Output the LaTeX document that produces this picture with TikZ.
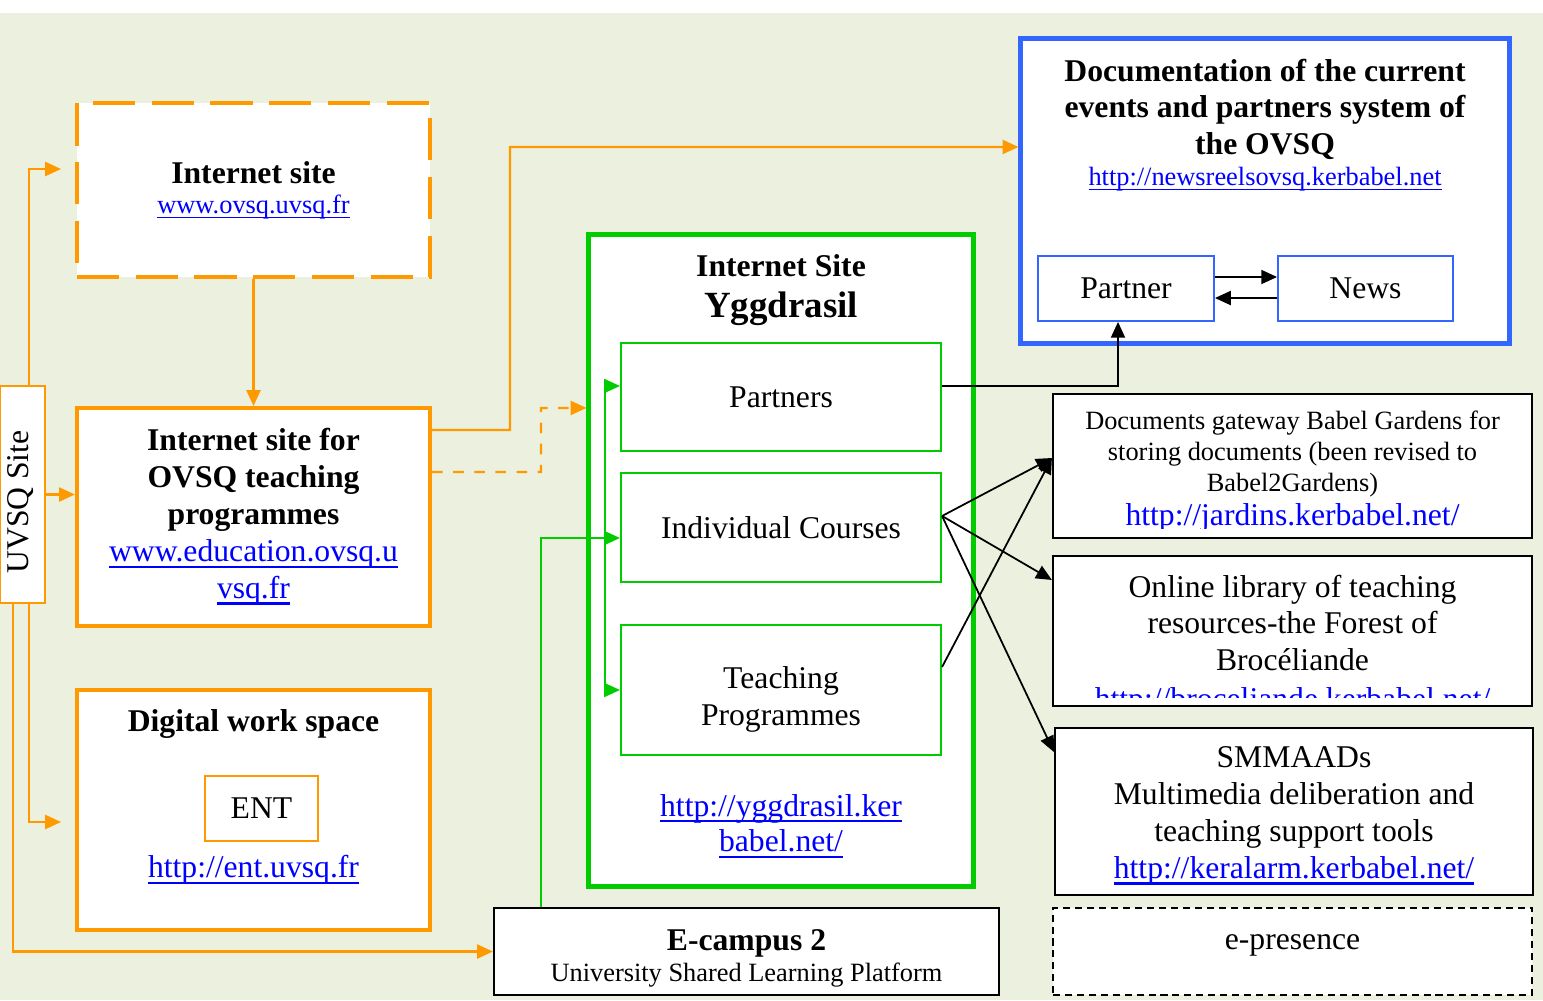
\documentclass[tikz,border=0pt]{standalone}
\usepackage{fontspec}
\usepackage{graphicx}
\setmainfont{Liberation Serif}
\usetikzlibrary{arrows.meta}
\definecolor{uvorange}{RGB}{255,153,0}
\definecolor{yggreen}{RGB}{0,204,0}
\definecolor{newsblue}{RGB}{51,102,255}
\definecolor{linkblue}{RGB}{0,0,255}
\definecolor{pagegreen}{RGB}{235,241,222}
\newsavebox{\linkbox}
\newcommand{\weblink}[1]{\sbox{\linkbox}{\textcolor{linkblue}{#1}}\textcolor{linkblue}{\rlap{\rule[-0.19em]{\wd\linkbox}{0.07em}}\usebox{\linkbox}}}
\tikzset{
  bodytext/.style={font=\fontsize{9}{10.5}\selectfont},
  smalltext/.style={font=\fontsize{7.5}{8.8}\selectfont},
  headtext/.style={font=\fontsize{9}{10.5}\selectfont\bfseries},
  orangebox/.style={draw=uvorange, line width=1.15pt, fill=white, inner sep=0pt},
  thinorange/.style={draw=uvorange, line width=0.5pt, fill=white, inner sep=0pt},
  greenbox/.style={draw=yggreen, line width=1.4pt, fill=white, inner sep=0pt},
  subgreen/.style={draw=yggreen, line width=0.55pt, fill=white, inner sep=0pt, bodytext},
  bluebox/.style={draw=newsblue, line width=1.4pt, fill=white, inner sep=0pt},
  subblue/.style={draw=newsblue, line width=0.5pt, fill=white, inner sep=0pt, bodytext},
  blackbox/.style={draw=black, line width=0.55pt, fill=white, inner sep=0pt},
  orangeline/.style={draw=uvorange, line width=0.6pt},
  gline/.style={draw=yggreen, line width=0.45pt},
  bline/.style={draw=black, line width=0.5pt}
}

\begin{document}
\begin{tikzpicture}[x=0.01cm, y=-0.01cm, >={Triangle[length=4.5pt,width=4pt]}]
    \useasboundingbox (0,0) rectangle (1543,1000);
    \fill[white] (0,0) rectangle (1543,13);
    \fill[pagegreen] (0,13) rectangle (1543,1000);

    % UVSQ column - left
    \node[thinorange, minimum width=0.45cm, minimum height=2.17cm] (uvsq) at (22.5,494.5) {};
    \node[bodytext, rotate=90] (uvsqtxt) at (21,502) {UVSQ Site};
    \node[orangebox, dash pattern=on 12pt off 4.7pt, minimum width=3.53cm, minimum height=1.74cm] (isite) at (253.5,190) {};
    \node[headtext] (isitettl) at (253.5,173) {Internet site};
    \node[smalltext] (isiteurl) at (253.5,207) {\weblink{www.ovsq.uvsq.fr}};
    \node[orangebox, minimum width=3.53cm, minimum height=2.18cm, bodytext, align=center] (edu) at (253.5,517)
        {\textbf{Internet site for}\\\textbf{OVSQ teaching}\\\textbf{programmes}\\\weblink{www.education.ovsq.u}\\\weblink{vsq.fr}};
    \node[orangebox, minimum width=3.53cm, minimum height=2.40cm] (dws) at (253.5,810) {};
    \node[headtext] (dwsttl) at (253.5,724) {Digital work space};
    \node[thinorange, minimum width=1.13cm, minimum height=0.65cm, bodytext] (ent) at (261.5,808.5) {ENT};
    \node[bodytext] (dwsurl) at (253.5,870) {\weblink{http://ent.uvsq.fr}};

    % Yggdrasil - centre
    \node[greenbox, minimum width=3.84cm, minimum height=6.51cm] (ygg) at (781,560.5) {};
    \node[headtext] (yggttl) at (781,266) {Internet Site};
    \node[font=\fontsize{10.5}{12}\selectfont\bfseries] (yggname) at (781,309) {Yggdrasil};
    \node[subgreen, minimum width=3.20cm, minimum height=1.08cm] (partners) at (781,397) {Partners};
    \node[subgreen, minimum width=3.20cm, minimum height=1.09cm] (courses) at (781,527.5) {Individual Courses};
    \node[subgreen, minimum width=3.20cm, minimum height=1.30cm] (teaching) at (781,690) {};
    \node[bodytext, align=center] (teachtxt) at (781,699) {Teaching\\Programmes};
    \node[font=\fontsize{9}{10.2}\selectfont, align=center] (yggurl) at (781,826) {\weblink{http://yggdrasil.ker}\\\weblink{babel.net/}};
    \node[blackbox, minimum width=5.05cm, minimum height=0.87cm] (ecampus) at (746.5,951.5) {};
    \node[headtext] (eckttl) at (746.5,943) {E-campus 2};
    \node[smalltext] (ecksub) at (746.5,975) {University Shared Learning Platform};

    % Documentation - top right
    \node[bluebox, minimum width=4.88cm, minimum height=3.04cm] (doc) at (1265,191) {};
    \node[font=\fontsize{9}{10.4}\selectfont\bfseries, align=center] (docttl) at (1265,109)
        {Documentation of the current\\events and partners system of\\the OVSQ};
    \node[smalltext] (docurl) at (1265,179) {\weblink{http://newsreelsovsq.kerbabel.net}};
    \node[subblue, minimum width=1.76cm, minimum height=0.65cm] (partner) at (1126,288.5) {Partner};
    \node[subblue, minimum width=1.75cm, minimum height=0.65cm] (news) at (1365.5,288.5) {News};

    % Resources - right
    \node[blackbox, minimum width=4.79cm, minimum height=1.44cm] (gateway) at (1292.5,466) {};
    \node[smalltext, align=center] (gwtext) at (1292.5,454)
        {Documents gateway Babel Gardens for\\storing documents (been revised to\\Babel2Gardens)};
    \begin{scope}
        \clip (gateway.north west) rectangle ([yshift=0.11cm]gateway.south east);
        \node[bodytext, text=linkblue] (gwurl) at (1292.5,518) {http://jardins.kerbabel.net/};
    \end{scope}
    \node[blackbox, minimum width=4.79cm, minimum height=1.50cm] (library) at (1292.5,631) {};
    \node[font=\fontsize{9}{10.25}\selectfont, align=center] (libtext) at (1292.5,623)
        {Online library of teaching\\resources-the Forest of\\Brocéliande};
    \begin{scope}
        \clip (library.north west) rectangle ([yshift=0.1cm]library.south east);
        \node[bodytext] (liburl) at (1292.5,702) {\weblink{http://broceliande.kerbabel.net/}};
    \end{scope}
    \node[blackbox, minimum width=4.78cm, minimum height=1.67cm] (smmaad) at (1294,811.5) {};
    \node[bodytext, align=center] (smmtxt) at (1294,816)
        {SMMAADs\\Multimedia deliberation and\\teaching support tools\\\weblink{http://keralarm.kerbabel.net/}};
    \node[blackbox, dash pattern=on 2pt off 1.4pt, minimum width=4.79cm, minimum height=0.87cm] (epres) at (1292.5,951.5) {};
    \node[bodytext] (eprestxt) at (1292.5,945) {e-presence};

    % Orange links
    \coordinate (isitein) at (61,169);
    \coordinate (dwsin) at (61,822);
    \draw[orangeline, ->] ([xshift=0.065cm]uvsq.north) |- (isitein);
    \draw[orangeline, ->] (uvsq.east) -- (uvsq.east -| edu.west);
    \draw[orangeline, ->] ([xshift=0.065cm]uvsq.south) |- (dwsin);
    \draw[orangeline, ->] ([xshift=-0.095cm]uvsq.south) |- (ecampus.west);
    \draw[orangeline, ->] (isite.south) -- (edu.north);
    \draw[orangeline, ->] ([yshift=0.87cm]edu.east) -| (510,147) -- ([yshift=0.44cm]doc.west);
    \draw[orangeline, dashed, ->] ([yshift=0.45cm]edu.east) -| (541,408) -- ([yshift=1.525cm]ygg.west);

    % Green links
    \draw[gline, ->] ([xshift=-0.15cm]teaching.west) |- ([yshift=0.11cm]partners.west);
    \draw[gline, ->] ([xshift=-0.15cm]teaching.west) -- (teaching.west);
    \draw[gline, ->] ([xshift=-2.055cm]ecampus.north) |- ([yshift=-0.105cm]courses.west);

    % Black links
    \draw[bline, ->] ([yshift=0.11cm]partners.east) -| ([xshift=-0.08cm]partner.south);
    \draw[bline, ->] ([yshift=0.115cm]partner.east) -- ([yshift=0.115cm]news.west);
    \draw[bline, ->] ([yshift=-0.095cm]news.west) -- ([yshift=-0.095cm]partner.east);
    \draw[bline, ->] ([yshift=0.115cm]courses.east) -- ([yshift=0.08cm]gateway.west);
    \draw[bline, ->] ([yshift=0.115cm]courses.east) -- ([yshift=0.51cm]library.west);
    \draw[bline, ->] ([yshift=0.115cm]courses.east) -- ([yshift=0.595cm]smmaad.west);
    \draw[bline, ->] ([yshift=0.23cm]teaching.east) -- ([yshift=0.08cm]gateway.west);
\end{tikzpicture}
\end{document}
